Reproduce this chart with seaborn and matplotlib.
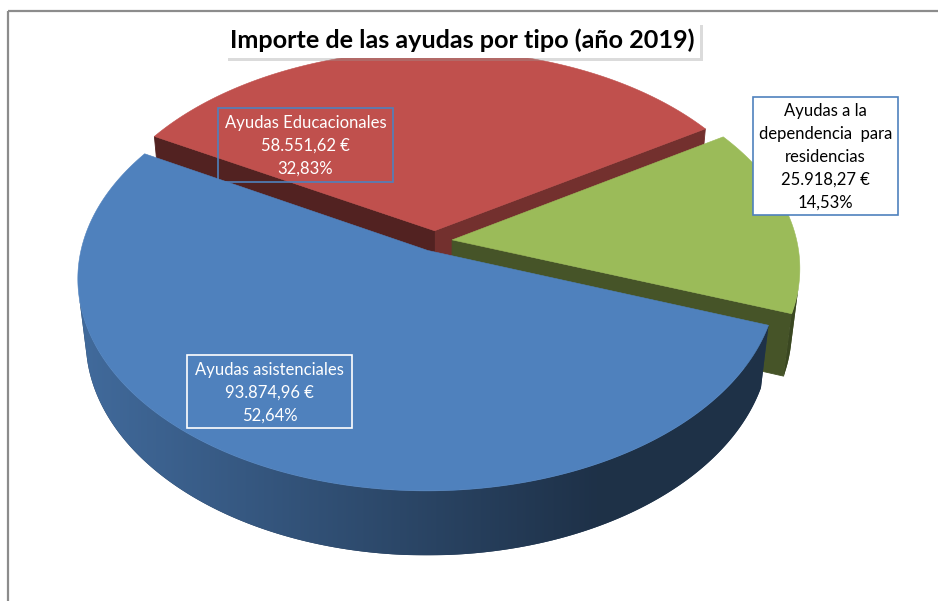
import numpy as np
import matplotlib
matplotlib.use("Agg")
import matplotlib.pyplot as plt
import matplotlib.colors as mcolors
from matplotlib.patches import Polygon, Rectangle
import seaborn as sns

# Datos
categorias = ["Ayudas asistenciales",
              "Ayudas a la dependencia para residencias",
              "Ayudas Educacionales"]
etiquetas = ["Ayudas asistenciales",
             "Ayudas a la\ndependencia  para\nresidencias",
             "Ayudas Educacionales"]
importes = [93874.96, 25918.27, 58551.62]
colores = ["#4F81BD", "#9BBB59", "#C0504D"]
titulo = "Importe de las ayudas por tipo (año 2019)"

sns.set_theme(style="white")
plt.rcParams["font.family"] = ["Lato", "DejaVu Sans"]

# vista 3D (pixeles de la figura)
CX, CY = 435, 241
FOCAL = 2120
DIST = 6.15
ELEV = np.radians(36.8)
GROSOR = 0.227
EXPLODE = 0.05
INICIO = 150.5  # grados, sentido antihorario

s_el, c_el = np.sin(ELEV), np.cos(ELEV)
camara = np.array([0.0, DIST * s_el, -DIST * c_el])


def proyectar(X, Y, Z):
    prof = DIST - s_el * Y + c_el * Z
    return CX + FOCAL * X / prof, CY - FOCAL * (c_el * Y + s_el * Z) / prof, prof


def sombra(color, k):
    r, g, b = mcolors.to_rgb(color)
    return (r * k, g * k, b * k)


def k_pared(x):
    # luz desde la izquierda: la pared se oscurece hacia la derecha
    return np.clip(0.52 - 0.30 * (x - CX) / 350, 0.38, 0.82)


def fmt_es(v):
    return f"{v:,.2f}".replace(",", "X").replace(".", ",").replace("X", ".")


fig = plt.figure(figsize=(9.38, 6.01), dpi=100)
ax = fig.add_axes([0, 0, 1, 1])

total = sum(importes)
fracciones = [v / total for v in importes]

caras = []   # (profundidad, tipo, puntos, color)
tapas = []
t1 = INICIO
for frac, color in zip(fracciones, colores):
    t2 = t1 + 360 * frac
    mid = np.radians((t1 + t2) / 2)
    ox, oz = EXPLODE * np.cos(mid), EXPLODE * np.sin(mid)

    angs = np.radians(np.linspace(t1, t2, int(abs(t2 - t1)) * 2 + 2))

    # pared exterior (parte visible)
    vis = []
    for a in angs:
        normal = np.array([np.cos(a), 0, np.sin(a)])
        punto = np.array([ox + np.cos(a), -GROSOR / 2, oz + np.sin(a)])
        if normal @ (camara - punto) > 0:
            vis.append(a)
    if len(vis) > 1:
        arriba = [proyectar(ox + np.cos(a), 0, oz + np.sin(a)) for a in vis]
        abajo = [proyectar(ox + np.cos(a), -GROSOR, oz + np.sin(a)) for a in vis]
        pts = [p[:2] for p in arriba] + [p[:2] for p in abajo[::-1]]
        prof = np.mean([p[2] for p in arriba])
        caras.append((prof, "pared", pts, color))

    # caras de corte
    for ang, nang in [(t1, t1 - 90), (t2, t2 + 90)]:
        ang, nang = np.radians(ang), np.radians(nang)
        normal = np.array([np.cos(nang), 0, np.sin(nang)])
        centro = np.array([ox + 0.5 * np.cos(ang), -GROSOR / 2, oz + 0.5 * np.sin(ang)])
        if normal @ (camara - centro) <= 0:
            continue
        pts = []
        for r, y in [(0, 0), (1, 0), (1, -GROSOR), (0, -GROSOR)]:
            x, yy, _ = proyectar(ox + r * np.cos(ang), y, oz + r * np.sin(ang))
            pts.append((x, yy))
        k = 0.51 + 0.17 * np.cos(nang)
        caras.append((proyectar(*centro)[2], "corte", pts, sombra(color, k)))

    # tapa superior
    pts = [proyectar(ox, 0, oz)[:2]]
    for ang in angs:
        pts.append(proyectar(ox + np.cos(ang), 0, oz + np.sin(ang))[:2])
    tapas.append((pts, color))
    t1 = t2

for i, (prof, tipo, pts, col) in enumerate(sorted(caras, key=lambda c: -c[0])):
    z = 1 + i * 0.01
    if tipo == "corte":
        ax.add_patch(Polygon(pts, closed=True, facecolor=col, edgecolor=col, lw=0.6, zorder=z))
        continue
    xs = np.array([p[0] for p in pts])
    ys = np.array([p[1] for p in pts])
    gx = np.linspace(xs.min(), xs.max(), 400)
    grad = np.array([[sombra(col, k_pared(x)) for x in gx]])
    poly = Polygon(pts, closed=True, facecolor=sombra(col, 0.45), edgecolor="none", zorder=z)
    ax.add_patch(poly)
    im = ax.imshow(grad, extent=(xs.min(), xs.max(), ys.max(), ys.min()),
                   aspect="auto", interpolation="bilinear", zorder=z + 0.001)
    im.set_clip_path(poly)

for pts, col in tapas:
    ax.add_patch(Polygon(pts, closed=True, facecolor=col, edgecolor=col, lw=0.4, zorder=3))

# etiquetas de datos
cajas = [(187, 355, 165, 73), (753, 97, 145, 118), (218, 108, 175, 74)]
estilos = [("white", "none", "white"), ("black", "white", "#4F81BD"), ("white", "none", "#4F81BD")]
for etq, v, frac, (x, y, w, h), (tc, fc, ec) in zip(etiquetas, importes, fracciones, cajas, estilos):
    ax.add_patch(Rectangle((x, y), w, h, facecolor=fc, edgecolor=ec, lw=1.2, zorder=5))
    texto = f"{etq}\n{fmt_es(v)} €\n{fmt_es(frac * 100)}%"
    ax.text(x + w / 2, y + h / 2 + 1, texto, ha="center", va="center", color=tc,
            fontsize=12, linespacing=1.52, zorder=6)

# titulo
ax.add_patch(Rectangle((228, 25), 475, 36, facecolor="#999999", edgecolor="none", alpha=0.35, zorder=6))
ax.add_patch(Rectangle((225, 22), 475, 36, facecolor="white", edgecolor="none", zorder=7))
ax.text(462.5, 40, titulo, ha="center", va="center", fontsize=18.2, fontweight="bold",
        color="black", zorder=8)

# marco
ax.plot([8, 938], [11, 11], color="#8c8c8c", lw=1.6, zorder=9, solid_capstyle="butt")
ax.plot([8, 8], [11, 601], color="#8c8c8c", lw=1.6, zorder=9, solid_capstyle="butt")

ax.set_xlim(0, 938)
ax.set_ylim(601, 0)
ax.axis("off")

fig.savefig("out.png", dpi=100)
